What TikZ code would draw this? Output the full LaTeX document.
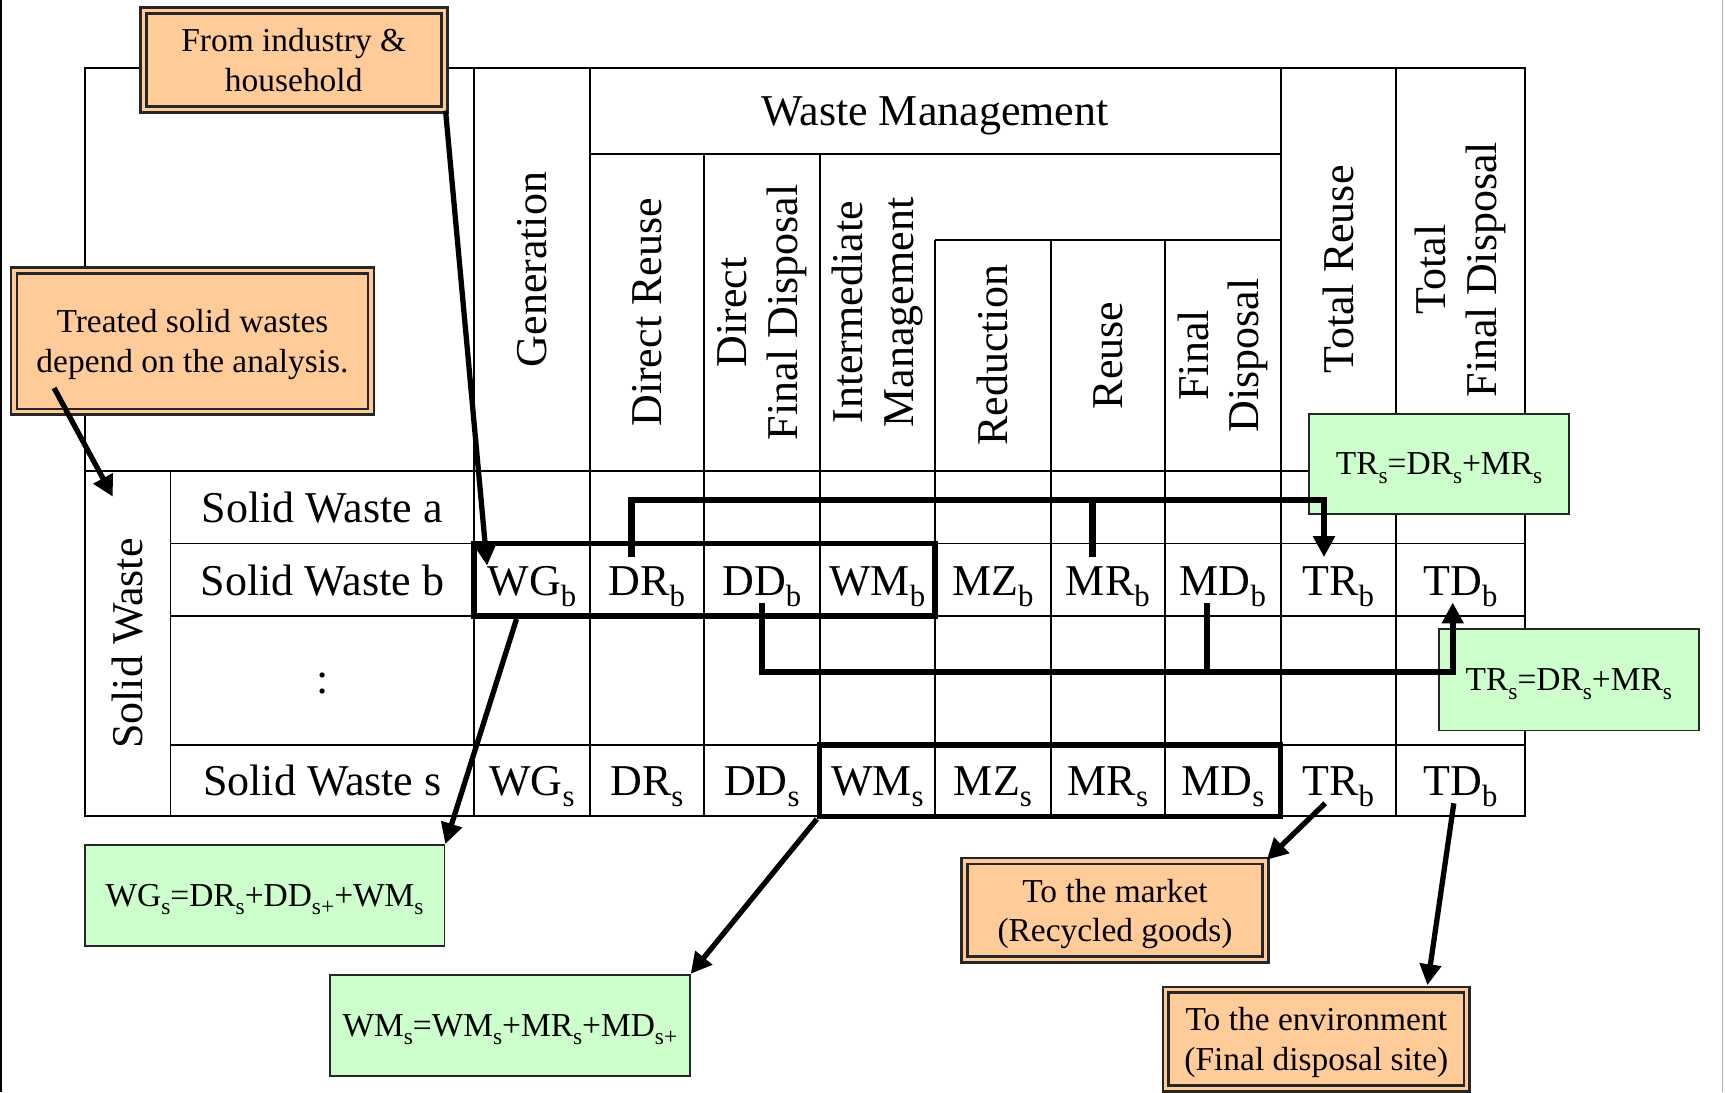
\documentclass[tikz,border=0pt]{standalone}
\usepackage{fontspec}
\setmainfont{Liberation Serif}
\usepackage{graphicx}
\usetikzlibrary{arrows.meta,calc,fit}
\definecolor{peach}{HTML}{FFCC99}
\definecolor{mint}{HTML}{CCFFCC}
% lowered, reduced subscript as used in the table entries
\newcommand\lowsub[1]{\raisebox{-0.25em}{\scalebox{0.7}{#1}}}
\newcommand\tblfont{\fontsize{20}{23}\selectfont}
\newcommand\notefont{\fontsize{15.2}{18}\selectfont}

\begin{document}
\begin{tikzpicture}[x=0.5pt,y=-0.5pt,
  rule/.style={line width=0.85pt},
  hdr/.style={rotate=90,align=center,font=\tblfont,inner sep=0pt},
  cell/.style={font=\tblfont,inner sep=0pt,anchor=base},
  boldbox/.style={draw,line width=2.5pt,inner sep=0pt},
  notebox/.style={draw=black!85,fill=peach,double=peach,double distance=1.5pt,
    line width=1.2pt,align=center,font=\notefont,inner sep=0pt,text depth=-1.5pt,
    minimum width=136.8pt,minimum height=44.8pt},
  eqbox/.style={draw=black!85,fill=mint,line width=0.8pt,font=\notefont,
    inner sep=0pt,text depth=0pt,minimum width=118pt,minimum height=46pt},
  bus/.style={line width=2.8pt},
  arrowend/.style={-{Triangle[length=9.5pt,width=9.5pt]}},
  flow/.style={line width=2.4pt,arrowend}
]
\useasboundingbox (0,0) rectangle (1568,993);

% page edges
\draw[line width=1pt] (1,0) -- (1,993);
\draw[black!30,line width=0.6pt] (1566,0) -- (1566,993);

% table grid
\draw[rule] (77,62) rectangle (1386,742);
\draw[rule] (77,428) -- (1386,428)
  (155,494) -- (1386,494)
  (155,560) -- (1386,560)
  (155,677) -- (1386,677)
  (536,140) -- (1164,140)
  (850,218) -- (1164,218)
  (155,428) -- (155,742)
  (431,62) -- (431,742)
  (536,62) -- (536,742)
  (640,140) -- (640,742)
  (745,140) -- (745,742)
  (850,218) -- (850,742)
  (955,218) -- (955,742)
  (1059,218) -- (1059,742)
  (1164,62) -- (1164,742)
  (1269,62) -- (1269,742);

% column headers
\node[cell] (hWM) at (850,114) {Waste Management};
\node[hdr] (hGen) at (483.5,245) {Generation};
\node[hdr] (hDR) at (588,284) {Direct Reuse};
\node[hdr] (hDD) at (692.5,284) {Direct\\Final Disposal};
\node[hdr] (hIM) at (797.5,284) {Intermediate\\Management};
\node[hdr] (hMZ) at (902.5,323) {Reduction};
\node[hdr] (hMR) at (1007,323) {Reuse};
\node[hdr] (hMD) at (1111.5,323) {Final\\Disposal};
\node[hdr] (hTR) at (1216.5,245) {Total Reuse};
\node[hdr] (hTD) at (1327.5,245) {Total\\Final Disposal};

% row headers
\node[hdr] (hSW) at (116,585) {Solid Waste};
\node[cell] (rowA) at (293,475) {Solid Waste a};
\node[cell] (rowB) at (293,541) {Solid Waste b};
\node[font=\tblfont,inner sep=0pt] (rowDots) at (293,621) {:};
\node[cell] (rowS) at (293,723.5) {Solid Waste s};

% table entries
\foreach \nm/\x/\t in {wg/483.5/WG, dr/588/DR, dd/692.5/DD, wm/797.5/WM,
                       mz/902.5/MZ, mr/1007/MR, md/1111.5/MD}{
  \node[cell] (\nm B) at (\x,541) {\t\lowsub{b}};
  \node[cell] (\nm S) at (\x,723.5) {\t\lowsub{s}};
}
\node[cell] (trB) at (1216.5,541) {TR\lowsub{b}};
\node[cell] (tdB) at (1327.5,541) {TD\lowsub{b}};
\node[cell] (trS) at (1216.5,723.5) {TR\lowsub{b}};
\node[cell] (tdS) at (1327.5,723.5) {TD\lowsub{b}};

% highlighted bands
\node[boldbox,fit={(431,494) (850,560)}] (bandB) {};
\node[boldbox,fit={(745,677) (1164,742)}] (bandS) {};

% notes
\node[notebox,text depth=-4pt] (srcInd) at (267,54.5) {From industry \&\\household};
\node[notebox,minimum width=162.3pt,minimum height=64.3pt] (srcTreated) at (175,310)
  {Treated solid wastes\\depend on the analysis.};
\node[notebox] (toMarket) at (1013.5,827.5) {To the market\\(Recycled goods)};
\node[notebox] (toEnv) at (1196.5,944.5) {To the environment\\(Final disposal site)};

% balance equations
\node[eqbox,minimum height=45.5pt] (eqTRa) at (1308,421.5)
  {TR\lowsub{s}=DR\lowsub{s}+MR\lowsub{s}};
\node[eqbox] (eqTRb) at (1426,618)
  {TR\lowsub{s}=DR\lowsub{s}+MR\lowsub{s}};
\node[eqbox,minimum width=163.5pt] (eqWG) at (240.5,814)
  {WG\lowsub{s}=DR\lowsub{s}+DD\lowsub{s+}+WM\lowsub{s}};
\node[eqbox,minimum width=163.5pt] (eqWM) at (463.5,932)
  {WM\lowsub{s}=WM\lowsub{s}+MR\lowsub{s}+MD\lowsub{s+}};

% inputs
\coordinate (treatedOut) at ($(srcTreated.south west)+(37.7,-22.8)$);
\coordinate (wasteIn) at (102.6,451.5);
\draw[flow] (treatedOut) -- (wasteIn);
\draw[flow] (srcInd.south east) -- (wgB.north west);

% outputs
\draw[flow] ($(wgB.south)+(-14,11)$) -- (eqWG.north east);
\draw[flow] (bandS.south west) -- (eqWM.north east);
\draw[flow] ($(trS.south)+(-12,-4)$) -- (toMarket.north east);
\draw[flow] ($(tdS.south)+(-6,-4)$) -- ($(toEnv.north east)+(-37,-3)$);

% reuse collector
\draw[bus,arrowend] ($(drB.north)+(-14,-8)$) -- ++(0,-52) -| ($(trB.north)+(-13,-8)$);
\draw[bus] ($(mrB.north)+(-14,-8)$) -- ++(0,-52);

% disposal collector
\draw[bus,arrowend] ($(ddB.south)+(0,-4)$) -- ++(0,63.5) -| ($(tdB.south)+(-7,-4)$);
\draw[bus] ($(mdB.south)+(-14,-4)$) -- ++(0,63.5);
\end{tikzpicture}
\end{document}
